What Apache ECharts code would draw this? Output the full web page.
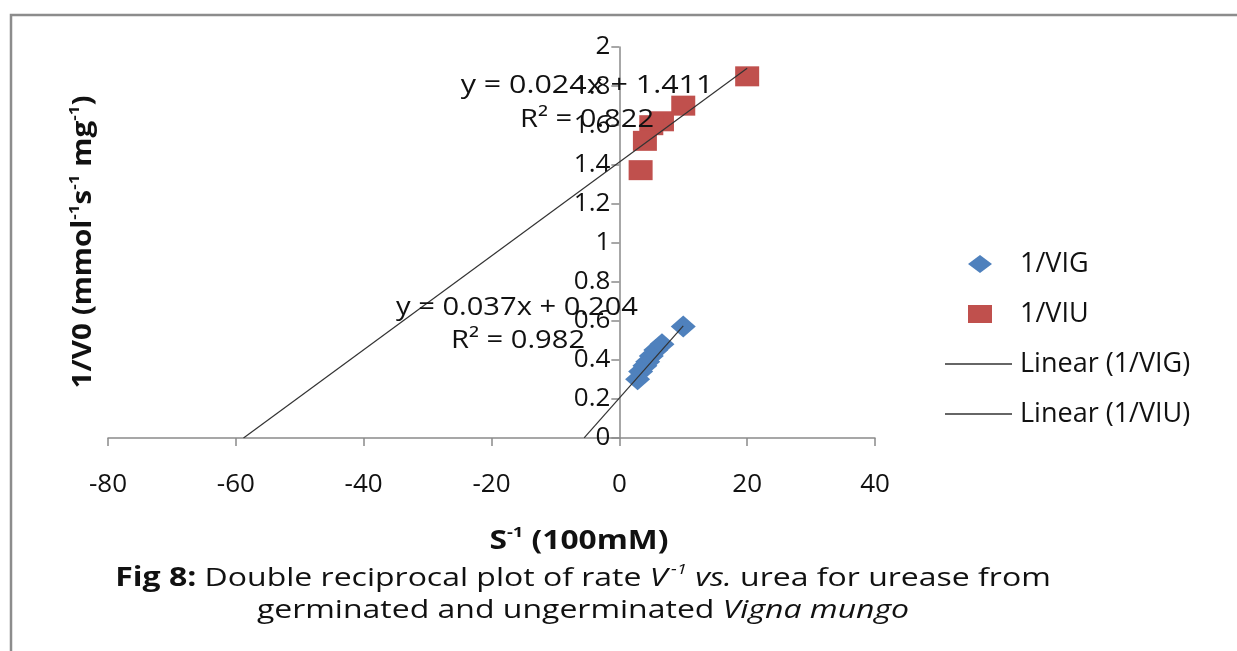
<!DOCTYPE html>
<html>
<head>
<meta charset="utf-8">
<script src="https://cdn.jsdelivr.net/npm/echarts@6/dist/echarts.min.js"></script>
<style>
  html, body { margin: 0; padding: 0; background: #fff; }
  #chart { width: 1237px; height: 651px; }
</style>
</head>
<body>
<div id="chart"></div>
<script>
// data (x = 1/S, y = 1/V0)
const vigX = [10, 6.67, 5.71, 5, 4.44, 4, 3.33, 2.86];
const vigY = [0.57, 0.48, 0.45, 0.42, 0.39, 0.37, 0.34, 0.30];
const viuX = [20, 10, 6.67, 5, 4, 3.33];
const viuY = [1.85, 1.70, 1.62, 1.60, 1.52, 1.37];

// excel trend lines: [slope, intercept] and the x span they are drawn over
const vigFit = [0.037, 0.204];
const vigFitSpan = [-5.51, 10];
const viuFit = [0.024, 1.411];
const viuFitSpan = [-58.8, 20];

const seriesNames = ['1/VIG', '1/VIU', 'Linear (1/VIG)', 'Linear (1/VIU)'];
const xTicks = [-80, -60, -40, -20, 0, 20, 40];
const yTicks = [0, 0.2, 0.4, 0.6, 0.8, 1, 1.2, 1.4, 1.6, 1.8, 2];

const FONT = '"Open Sans", "DejaVu Sans", sans-serif';
const AXIS_GREY = '#8a8a8a';
const INK = '#111';

function pairs(xs, ys) {
    return xs.map((x, i) => [x, ys[i]]);
}
function fitLine(fit, span) {
    return span.map(x => [x, fit[0] * x + fit[1]]);
}
// plain text label, stretched a bit sideways like the source figure
function label(x, y, text, sx) {
    return {
        type: 'text', x: x, y: y, scaleX: sx || 1, z: 20,
        style: { text: text, fill: INK, font: '26px ' + FONT, align: 'center', verticalAlign: 'middle' }
    };
}

const chart = echarts.init(document.getElementById('chart'));

const gridLeft = 108, gridWidth = 767;
// y axis sits on x = 0, so shift it in from the grid's left edge
const yAxisShift = (0 - xTicks[0]) / (xTicks[xTicks.length - 1] - xTicks[0]) * gridWidth;

const option = {
    animation: false,
    backgroundColor: '#fff',
    grid: { left: gridLeft, width: gridWidth, top: 47, bottom: 213, containLabel: false },
    xAxis: {
        type: 'value',
        min: xTicks[0],
        max: xTicks[xTicks.length - 1],
        interval: 20,
        splitLine: { show: false },
        axisLine: { onZero: false, lineStyle: { color: AXIS_GREY, width: 1.5 } },
        axisTick: { show: true, length: 8, lineStyle: { color: AXIS_GREY, width: 1.5 } },
        axisLabel: { color: INK, fontSize: 26, fontFamily: FONT, margin: 34 }
    },
    yAxis: {
        type: 'value',
        position: 'left',
        offset: -yAxisShift,
        min: yTicks[0],
        max: yTicks[yTicks.length - 1],
        interval: 0.2,
        splitLine: { show: false },
        axisLine: { onZero: false, lineStyle: { color: AXIS_GREY, width: 1.5 } },
        axisTick: { show: true, length: 8, lineStyle: { color: AXIS_GREY, width: 1.5 } },
        axisLabel: { color: INK, fontSize: 26, fontFamily: FONT, margin: 9 }
    },
    legend: [
        {
            orient: 'vertical',
            left: 968,
            top: 250,
            padding: 0,
            itemWidth: 24,
            itemHeight: 18,
            itemGap: 22,
            data: [
                { name: seriesNames[0], icon: 'diamond' },
                { name: seriesNames[1], icon: 'rect' }
            ],
            textStyle: { color: INK, fontSize: 27, fontFamily: FONT, lineHeight: 28, padding: [0, 0, 0, 23] }
        },
        {
            orient: 'vertical',
            left: 945,
            top: 350,
            padding: 0,
            itemWidth: 67,
            itemHeight: 1.5,
            itemGap: 22,
            data: [
                { name: seriesNames[2], icon: 'rect', itemStyle: { color: '#333' } },
                { name: seriesNames[3], icon: 'rect', itemStyle: { color: '#333' } }
            ],
            textStyle: { color: INK, fontSize: 27, fontFamily: FONT, lineHeight: 28, padding: [0, 0, 0, 3] }
        }
    ],
    series: [
        {
            name: seriesNames[2],
            type: 'line',
            data: fitLine(vigFit, vigFitSpan),
            symbol: 'none',
            lineStyle: { color: '#333', width: 1.2 },
            itemStyle: { color: '#333' },
            z: 3
        },
        {
            name: seriesNames[3],
            type: 'line',
            data: fitLine(viuFit, viuFitSpan),
            symbol: 'none',
            lineStyle: { color: '#333', width: 1.2 },
            itemStyle: { color: '#333' },
            z: 3
        },
        {
            name: seriesNames[0],
            type: 'scatter',
            data: pairs(vigX, vigY),
            symbol: 'diamond',
            symbolSize: [25, 22],
            itemStyle: { color: '#4f81bd', opacity: 1 },
            z: 2
        },
        {
            name: seriesNames[1],
            type: 'scatter',
            data: pairs(viuX, viuY),
            symbol: 'rect',
            symbolSize: [24, 20],
            itemStyle: { color: '#c0504d', opacity: 1 },
            z: 2
        }
    ],
    graphic: [
        // page frame
        { type: 'polyline', shape: { points: [[11, 651], [11, 15], [1237, 15]] },
          style: { stroke: '#8c8c8c', lineWidth: 2.5, fill: null }, z: 1 },
        // trend line equations
        label(587, 86, 'y = ' + viuFit[0].toFixed(3) + 'x + ' + viuFit[1].toFixed(3), 1.17),
        label(587, 120, 'R² = 0.822', 1.12),
        label(517, 308, 'y = ' + vigFit[0].toFixed(3) + 'x + ' + vigFit[1].toFixed(3), 1.12),
        label(518, 341, 'R² = 0.982', 1.12),
        // axis titles
        { type: 'text', x: 82, y: 242, rotation: Math.PI / 2, scaleX: 1.14, z: 20,
          style: {
              text: '{b|1/V0 (mmol}{s|-1}{b|s}{s|-1}{b| mg}{s|-1}{b|)}',
              align: 'center', verticalAlign: 'middle',
              rich: {
                  b: { fontSize: 26, fontWeight: 'bold', fontFamily: FONT, fill: INK, lineHeight: 30, verticalAlign: 'bottom' },
                  s: { fontSize: 15, fontWeight: 'bold', fontFamily: FONT, fill: INK, lineHeight: 30, verticalAlign: 'top' }
              }
          } },
        { type: 'text', x: 579, y: 540, scaleX: 1.22, z: 20,
          style: {
              text: '{b|S}{s|-1}{b| (100mM)}',
              align: 'center', verticalAlign: 'middle',
              rich: {
                  b: { fontSize: 26, fontWeight: 'bold', fontFamily: FONT, fill: INK, lineHeight: 30, verticalAlign: 'bottom' },
                  s: { fontSize: 15, fontWeight: 'bold', fontFamily: FONT, fill: INK, lineHeight: 30, verticalAlign: 'top' }
              }
          } },
        // caption
        { type: 'text', x: 583, y: 577, scaleX: 1.23, z: 20,
          style: {
              text: '{b|Fig 8:}{n| Double reciprocal plot of rate }{i|V}{is|-1}{i| vs.}{n| urea for urease from}',
              align: 'center', verticalAlign: 'middle',
              rich: {
                  b: { fontSize: 26, fontWeight: 'bold', fontFamily: FONT, fill: INK, lineHeight: 30, verticalAlign: 'bottom' },
                  n: { fontSize: 26, fontFamily: FONT, fill: INK, lineHeight: 30, verticalAlign: 'bottom' },
                  i: { fontSize: 26, fontStyle: 'italic', fontFamily: FONT, fill: INK, lineHeight: 30, verticalAlign: 'bottom' },
                  is: { fontSize: 15, fontStyle: 'italic', fontFamily: FONT, fill: INK, lineHeight: 30, verticalAlign: 'top', padding: [0, 0, 0, 3] }
              }
          } },
        { type: 'text', x: 583, y: 611, scaleX: 1.23, z: 20,
          style: {
              text: '{n|germinated and ungerminated }{i|Vigna mungo}',
              align: 'center', verticalAlign: 'middle',
              rich: {
                  n: { fontSize: 26, fontFamily: FONT, fill: INK, lineHeight: 30 },
                  i: { fontSize: 26, fontStyle: 'italic', fontFamily: FONT, fill: INK, lineHeight: 30 }
              }
          } }
    ]
};

chart.setOption(option);
window.addEventListener('resize', chart.resize);
</script>
</body>
</html>
